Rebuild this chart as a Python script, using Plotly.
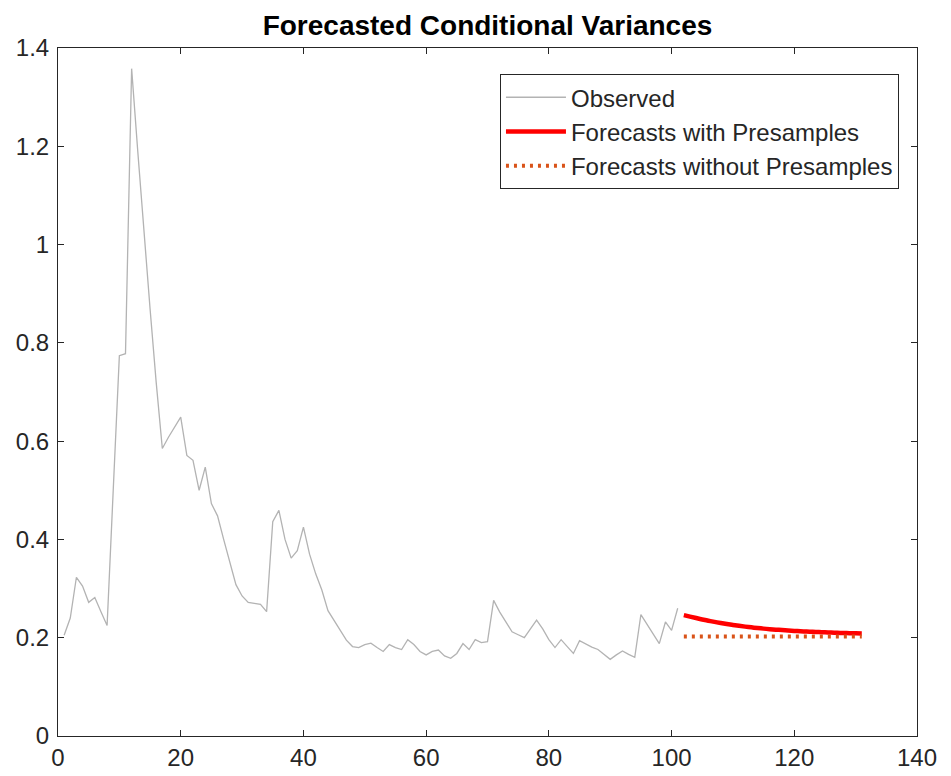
import plotly.graph_objects as go

# Observed conditional variances (t = 1..101)
obs_t = list(range(1, 102))
obs_v = [
    0.205, 0.240, 0.323, 0.305, 0.272, 0.282, 0.253, 0.225, 0.500, 0.774,
    0.778, 1.358, 1.190, 1.020, 0.870, 0.720, 0.585, 0.608, 0.628, 0.649,
    0.571, 0.561, 0.500, 0.547, 0.473, 0.448, 0.400, 0.352, 0.308, 0.285,
    0.272, 0.270, 0.268, 0.253, 0.436, 0.459, 0.400, 0.362, 0.377, 0.425,
    0.370, 0.330, 0.297, 0.255, 0.235, 0.215, 0.195, 0.182, 0.180, 0.186,
    0.189, 0.180, 0.172, 0.186, 0.180, 0.176, 0.196, 0.186, 0.172, 0.165,
    0.172, 0.175, 0.163, 0.158, 0.168, 0.188, 0.176, 0.196, 0.190, 0.192,
    0.276, 0.252, 0.233, 0.212, 0.206, 0.200, 0.218, 0.236, 0.218, 0.196,
    0.180, 0.196, 0.182, 0.168, 0.194, 0.187, 0.181, 0.176, 0.166, 0.156,
    0.165, 0.173, 0.166, 0.160, 0.247, 0.228, 0.208, 0.188, 0.232, 0.215,
    0.260,
]

# Forecast horizon (t = 102..131)
fc_t = list(range(102, 132))
fc_with = [
    0.2460, 0.2430, 0.2400, 0.2372, 0.2346, 0.2322, 0.2300, 0.2279, 0.2260, 0.2242,
    0.2226, 0.2211, 0.2197, 0.2185, 0.2174, 0.2164, 0.2155, 0.2147, 0.2139, 0.2132,
    0.2126, 0.2120, 0.2114, 0.2109, 0.2104, 0.2100, 0.2096, 0.2092, 0.2089, 0.2086,
]
fc_without = [0.2025] * 30

x_ticks = [0, 20, 40, 60, 80, 100, 120, 140]
y_ticks = [0, 0.2, 0.4, 0.6, 0.8, 1.0, 1.2, 1.4]
y_labels = ["0", "0.2", "0.4", "0.6", "0.8", "1", "1.2", "1.4"]

axis_color = "#262626"
font_family = "Liberation Sans, Arial, Helvetica, sans-serif"

# page body has an 8px margin, so the figure is sized/offset to compensate
W, H = 943, 768
ML, MT, MR, MB = 50, 40, 34, 40

fig = go.Figure()
fig.add_trace(go.Scatter(x=obs_t, y=obs_v, mode="lines", name="Observed",
                         line=dict(color="#B3B3B3", width=1.3)))
fig.add_trace(go.Scatter(x=fc_t, y=fc_with, mode="lines",
                         name="Forecasts with Presamples",
                         line=dict(color="#FF0000", width=4.5, shape="spline")))
fig.add_trace(go.Scatter(x=fc_t, y=fc_without, mode="lines",
                         name="Forecasts without Presamples",
                         line=dict(color="#D95319", width=4, dash="3px,5px")))

fig.update_layout(
    width=W, height=H,
    margin=dict(l=ML, r=MR, t=MT, b=MB, autoexpand=False),
    paper_bgcolor="white", plot_bgcolor="white",
    font=dict(family=font_family, size=24, color=axis_color),
    title=dict(text="<b>Forecasted Conditional Variances</b>",
               x=(487.5 - 8) / W, xanchor="center",
               y=1 - (25 - 8) / H, yanchor="middle",
               font=dict(size=28, color="#000000")),
    showlegend=True,
    legend=dict(x=0.979, y=0.962, xanchor="right", yanchor="top",
                bgcolor="white", bordercolor=axis_color, borderwidth=1,
                font=dict(size=24, color=axis_color),
                itemwidth=60, tracegroupgap=0),
)
fig.update_xaxes(range=[0, 140], tickmode="array", tickvals=x_ticks,
                 ticktext=[str(v) for v in x_ticks], automargin=False,
                 showgrid=False, zeroline=False, showline=True,
                 linecolor=axis_color, linewidth=1, mirror="ticks",
                 ticks="inside", ticklen=6, tickcolor=axis_color,
                 tickfont=dict(size=24, color=axis_color))
fig.update_yaxes(range=[0, 1.4], tickmode="array", tickvals=y_ticks,
                 ticktext=y_labels, automargin=False, ticklabelstandoff=3,
                 showgrid=False, zeroline=False, showline=True,
                 linecolor=axis_color, linewidth=1, mirror="ticks",
                 ticks="inside", ticklen=6, tickcolor=axis_color,
                 tickfont=dict(size=24, color=axis_color))

fig.write_html("out.html")
